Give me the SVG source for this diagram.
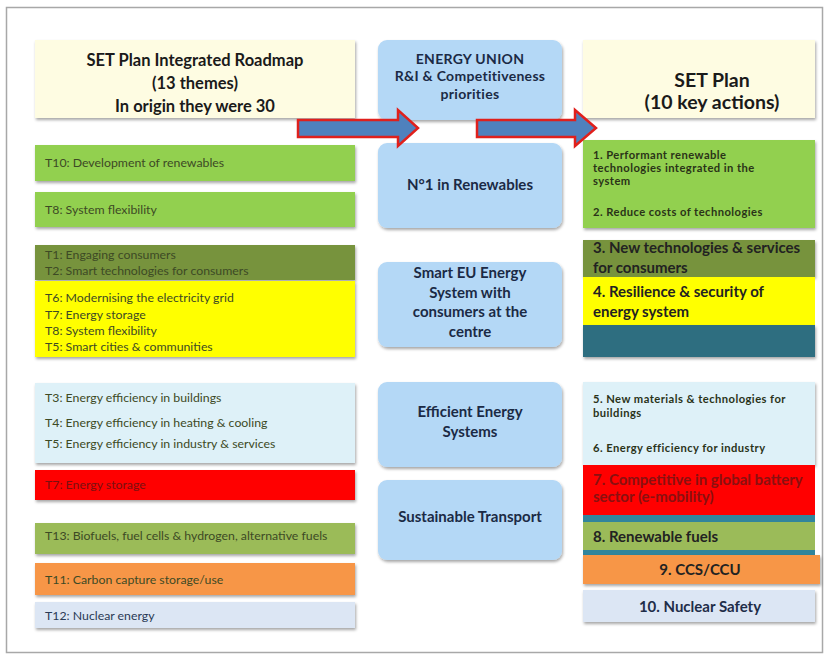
<svg xmlns="http://www.w3.org/2000/svg" width="830" height="662" viewBox="0 0 830 662">
<defs>
<filter id="sh" x="-5%" y="-10%" width="110%" height="130%">
<feDropShadow dx="1" dy="2" stdDeviation="1.5" flood-color="#000" flood-opacity="0.35"/>
</filter>
</defs>
<style>
text{font-family:Lato,"Open Sans","Liberation Sans",sans-serif}
.hd{font-size:16.5px;font-weight:bold;fill:#1a1a1a;text-anchor:middle}
.hd2{font-size:19.5px;font-weight:bold;fill:#1a1a1a;text-anchor:middle}
.lt{font-size:12.3px;fill:#3d4a25}
.mt{font-size:15px;font-weight:bold;fill:#1b2a45;text-anchor:middle}
.mt2{font-size:14px;letter-spacing:0.3px;font-weight:bold;fill:#1b2a45;text-anchor:middle}
.rt{font-size:11.2px;letter-spacing:0.45px;font-weight:bold;fill:#2a3318}
.rt2{font-size:15px;font-weight:bold;fill:#222}
.mid{fill:#b4d8f6}
.arrow{fill:#4f81bd;stroke:#e0201c;stroke-width:2.5;stroke-linejoin:miter}
</style>
<rect x="6.5" y="7.5" width="816" height="645" fill="#fff" stroke="#a8a8a8" stroke-width="1.5"/>

<g id="left-header"><rect x="35" y="40" width="320" height="78" fill="#fefce2" filter="url(#sh)"/>
<text class="hd" x="195" y="66">SET Plan Integrated Roadmap</text>
<text class="hd" x="195" y="89">(13 themes)</text>
<text class="hd" x="195" y="112">In origin they were 30</text></g>

<g id="t10"><rect x="35" y="145" width="320" height="36" fill="#92d050" filter="url(#sh)"/>
<text class="lt" x="45" y="167">T10: Development of renewables</text></g>
<g id="t8"><rect x="35" y="192" width="320" height="35" fill="#92d050" filter="url(#sh)"/>
<text class="lt" x="45" y="214">T8: System flexibility</text></g>
<g id="t1t2"><rect x="35" y="245" width="320" height="35" fill="#77933c" filter="url(#sh)"/>
<text class="lt" x="45" y="259">T1: Engaging consumers</text>
<text class="lt" x="45" y="275">T2: Smart technologies for consumers</text></g>
<g id="t6t7t8t5"><rect x="35" y="281" width="320" height="76" fill="#ffff00" filter="url(#sh)"/>
<text class="lt" x="45" y="302">T6: Modernising the electricity grid</text>
<text class="lt" x="45" y="319">T7: Energy storage</text>
<text class="lt" x="45" y="335">T8: System flexibility</text>
<text class="lt" x="45" y="351">T5: Smart cities &amp; communities</text></g>
<g id="t3t4t5"><rect x="35" y="383" width="320" height="80" fill="#def1f8" filter="url(#sh)"/>
<text class="lt" x="45" y="402">T3: Energy efficiency in buildings</text>
<text class="lt" x="45" y="427">T4: Energy efficiency in heating &amp; cooling</text>
<text class="lt" x="45" y="448">T5: Energy efficiency in industry &amp; services</text></g>
<g id="t7"><rect x="35" y="470" width="320" height="30" fill="#ff0000" filter="url(#sh)"/>
<text class="lt" x="45" y="489" style="fill:#7a1010">T7: Energy storage</text></g>
<g id="t13"><rect x="35" y="523" width="320" height="31" fill="#9bbb59" filter="url(#sh)"/>
<text class="lt" x="45" y="540">T13: Biofuels, fuel cells &amp; hydrogen, alternative fuels</text></g>
<g id="t11"><rect x="35" y="563" width="320" height="32" fill="#f79646" filter="url(#sh)"/>
<text class="lt" x="45" y="584">T11: Carbon capture storage/use</text></g>
<g id="t12"><rect x="35" y="602" width="320" height="26" fill="#dce6f4" filter="url(#sh)"/>
<text class="lt" x="45" y="620" style="fill:#2a3a55">T12: Nuclear energy</text></g>

<g id="energy-union"><rect class="mid" x="378" y="40" width="184" height="80" rx="9" filter="url(#sh)"/>
<text class="mt2" x="470" y="64">ENERGY UNION</text>
<text class="mt2" x="470" y="81">R&amp;I &amp; Competitiveness</text>
<text class="mt2" x="470" y="99">priorities</text></g>
<g id="renewables"><rect class="mid" x="378" y="143" width="184" height="85" rx="9" filter="url(#sh)"/>
<text class="mt" x="470" y="190">N°1 in Renewables</text></g>
<g id="smart-eu"><rect class="mid" x="378" y="262" width="184" height="85" rx="9" filter="url(#sh)"/>
<text class="mt" x="470" y="278">Smart EU Energy</text>
<text class="mt" x="470" y="298">System with</text>
<text class="mt" x="470" y="317">consumers at the</text>
<text class="mt" x="470" y="337">centre</text></g>
<g id="efficient"><rect class="mid" x="378" y="382" width="184" height="85" rx="9" filter="url(#sh)"/>
<text class="mt" x="470" y="417">Efficient Energy</text>
<text class="mt" x="470" y="437">Systems</text></g>
<g id="transport"><rect class="mid" x="378" y="480" width="184" height="80" rx="9" filter="url(#sh)"/>
<text class="mt" x="470" y="522">Sustainable Transport</text></g>

<g id="right-header"><rect x="583" y="40" width="232" height="78" fill="#fefce2" filter="url(#sh)"/>
<text class="hd2" x="712" y="87">SET Plan</text>
<text class="hd2" x="712" y="109">(10 key actions)</text></g>
<g id="a1-2"><rect x="583" y="140" width="232" height="88" fill="#92d050" filter="url(#sh)"/>
<text class="rt" x="593" y="159">1. Performant renewable</text>
<text class="rt" x="593" y="172">technologies integrated in the</text>
<text class="rt" x="593" y="185">system</text>
<text class="rt" x="593" y="216">2. Reduce costs of technologies</text></g>
<g id="a3"><rect x="583" y="240" width="232" height="37" fill="#77933c" filter="url(#sh)"/>
<text class="rt2" x="593" y="253">3. New technologies &amp; services</text>
<text class="rt2" x="593" y="273">for consumers</text></g>
<g id="a4"><rect x="583" y="277" width="232" height="48" fill="#ffff00"/>
<text class="rt2" x="593" y="297">4. Resilience &amp; security of</text>
<text class="rt2" x="593" y="317">energy system</text></g>
<g id="a-teal"><rect x="583" y="325" width="232" height="32" fill="#2e6e80" filter="url(#sh)"/></g>
<g id="a5-6"><rect x="583" y="382" width="232" height="83" fill="#def1f8" filter="url(#sh)"/>
<text class="rt" x="593" y="403">5. New materials &amp; technologies for</text>
<text class="rt" x="593" y="417">buildings</text>
<text class="rt" x="593" y="452">6. Energy efficiency for industry</text></g>
<g id="a7"><rect x="583" y="515" width="232" height="40" fill="#31859c"/>
<rect x="583" y="465" width="232" height="50" fill="#ff0000"/>
<text class="rt2" x="593" y="485" style="fill:#8a1010">7. Competitive in global battery</text>
<text class="rt2" x="593" y="502" style="fill:#8a1010">sector (e-mobility)</text></g>
<g id="a8"><rect x="583" y="522" width="232" height="28" fill="#9bbb59"/>
<text class="rt2" x="593" y="542">8. Renewable fuels</text></g>
<g id="a9"><rect x="583" y="555" width="237" height="29" fill="#f79646" filter="url(#sh)"/>
<text class="rt2" x="700" y="575" text-anchor="middle">9. CCS/CCU</text></g>
<g id="a10"><rect x="583" y="590" width="232" height="32" fill="#dce6f4" filter="url(#sh)"/>
<text class="rt2" x="700" y="612" text-anchor="middle" style="fill:#1f2d48">10. Nuclear Safety</text></g>

<g id="connectors">
<polygon class="arrow" points="298,120 398,120 398,110 418,128 398,146 398,137 298,137"/>
<polygon class="arrow" points="477,120 575,120 575,110 596,128 575,146 575,137 477,137"/>
</g>
</svg>
